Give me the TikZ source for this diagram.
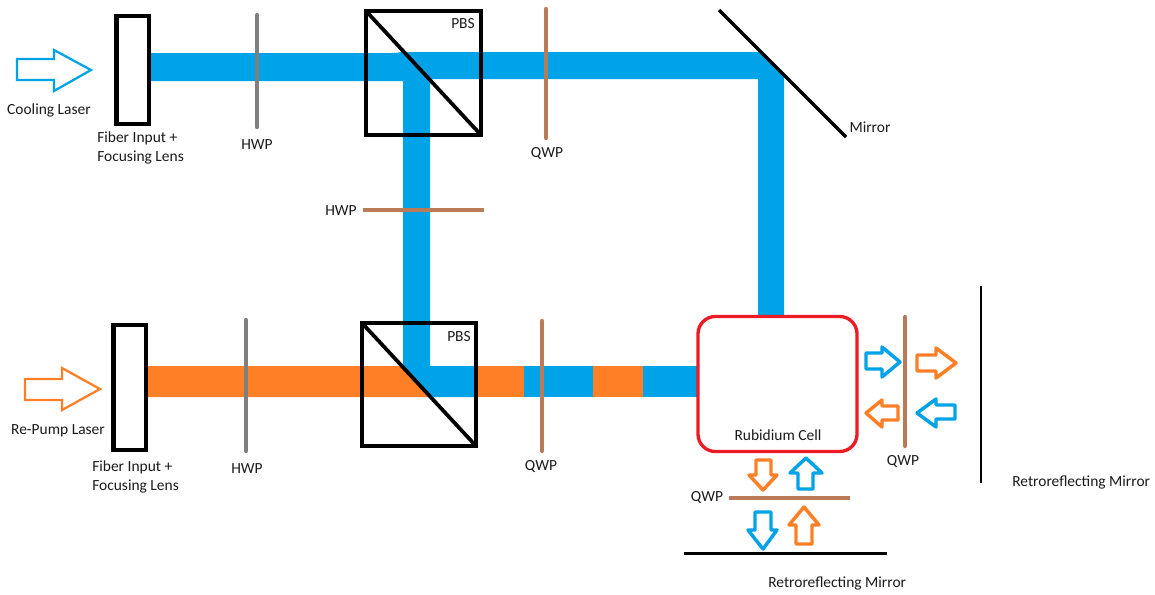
\documentclass[tikz,border=0pt]{standalone}
\usepackage{fontspec}
\setmainfont{Carlito}
\definecolor{beamblue}{HTML}{00A2E8}
\definecolor{beamorange}{HTML}{FF7F27}
\definecolor{wpbrown}{HTML}{B97A57}
\definecolor{wpgray}{HTML}{7F7F7F}
\definecolor{cellred}{HTML}{ED1C24}
\definecolor{labelink}{HTML}{1A1A1A}
\tikzset{
  plategray/.style={draw=wpgray,line width=3.2pt,line cap=round},
  platebrown/.style={draw=wpbrown,line width=3.2pt,line cap=round},
  fiberbox/.style={draw=black,line width=3.2pt,fill=white},
  cube/.style={draw=black,line width=3.5pt},
  cubediag/.style={draw=black,line width=2.8pt},
  mirrorline/.style={draw=black,line width=2pt},
  arrblue/.style={draw=beamblue,line width=2.6pt,fill=white,line join=round},
  arrorange/.style={draw=beamorange,line width=2.6pt,fill=white,line join=round},
  bigblue/.style={draw=beamblue,line width=1.7pt,fill=white,line join=miter},
  bigorange/.style={draw=beamorange,line width=1.7pt,fill=white,line join=miter},
  lbl/.style={font=\fontsize{11.6pt}{13pt}\selectfont,text=labelink,inner sep=0pt},
  lblw/.style={lbl,anchor=west},
}
\begin{document}
\begin{tikzpicture}[x=0.75pt,y=-0.75pt]
\useasboundingbox (0,0) rectangle (1155,594);
% beams
\fill[beamblue] (150,53) -- (394,53) -- (402,52) -- (761,52) -- (784,75) -- (784,316) -- (758,316) -- (758,79) -- (430,79) -- (430,366) -- (476,366) -- (476,397) -- (431,397) -- (403,367) -- (403,81) -- (150,81) -- cycle;
\fill[beamorange] (147,366) -- (402,366) -- (431,397) -- (147,397) -- cycle;
\fill[beamorange] (476,366) rectangle (524,397);
\fill[beamblue] (524,366) rectangle (593,397);
\fill[beamorange] (593,366) rectangle (643,397);
\fill[beamblue] (643,366) rectangle (698,397);
% fibre boxes
\draw[fiberbox] (116.5,16) rectangle (149,124);
\draw[fiberbox] (113.5,325) rectangle (146,450);
% wave plates
\draw[plategray] (257,15) -- (257,127);
\draw[plategray] (246,320) -- (246,451);
\draw[platebrown] (546,9) -- (546,138);
\draw[platebrown] (542,321) -- (542,451);
\draw[platebrown,line cap=butt,line width=3.6pt] (363,210) -- (484,210);
\draw[platebrown] (905,317) -- (905,446);
\draw[platebrown,line cap=butt,line width=3.6pt] (729,498) -- (850,498);
% cubes
\draw[cube] (366,11) rectangle (481,135);
\draw[cubediag] (366,11) -- (481,135);
\draw[cube] (362,323) rectangle (476,446);
\draw[cubediag] (362,323) -- (476,446);
% mirrors
\draw[mirrorline,line width=2.4pt] (719,10) -- (846,137);
\draw[mirrorline] (981,286) -- (981,483);
\draw[mirrorline] (684,553.5) -- (887,553.5);
% cell
\draw[draw=cellred,line width=2.5pt,rounded corners=13pt] (698,316.5) rectangle (857,451.5);
% big arrows
\draw[bigblue] (17,59) -- (54,59) -- (54,50) -- (91,70) -- (54,91) -- (54,80) -- (17,80) -- cycle;
\draw[bigorange] (25,379) -- (62,379) -- (62,368) -- (100,389) -- (62,410) -- (62,400) -- (25,400) -- cycle;
% small arrows, right of the cell
\draw[arrblue] (866,353) -- (882,353) -- (882,347) -- (900,362) -- (882,377) -- (882,369) -- (866,369) -- cycle;
\draw[arrorange] (917,355) -- (936,355) -- (936,348) -- (956,363) -- (936,378) -- (936,371) -- (917,371) -- cycle;
\draw[arrorange] (898,406) -- (882,406) -- (882,400) -- (866,413) -- (882,427) -- (882,420) -- (898,420) -- cycle;
\draw[arrblue] (955,405) -- (936,405) -- (936,399) -- (917,413) -- (936,427) -- (936,419) -- (955,419) -- cycle;
% small arrows, below the cell
\draw[arrorange] (756,460) -- (771,460) -- (771,475) -- (777,475) -- (763,490) -- (749,475) -- (756,475) -- cycle;
\draw[arrblue] (798,489) -- (813,489) -- (813,473) -- (822,473) -- (806,458) -- (790,473) -- (798,473) -- cycle;
\draw[arrblue] (755,512) -- (771,512) -- (771,530) -- (777,530) -- (763,549) -- (748,530) -- (755,530) -- cycle;
\draw[arrorange] (796,544) -- (812,544) -- (812,525) -- (819,525) -- (804,507) -- (789,525) -- (796,525) -- cycle;
% labels
\node[lbl] (tCool) at (49,110.5) {Cooling Laser};
\node[lblw] (tFibA) at (97,138.5) {Fiber Input +};
\node[lblw] (tLensA) at (97,157.5) {Focusing Lens};
\node[lbl] (tHwpA) at (257,144.5) {HWP};
\node[lbl] (tPbsA) at (463,23.5) {PBS};
\node[lbl] (tQwpA) at (547,153.5) {QWP};
\node[lbl] (tHwpB) at (341,210.5) {HWP};
\node[lbl] (tMirror) at (870,127.5) {Mirror};
\node[lbl] (tRepump) at (58,430.5) {Re-Pump Laser};
\node[lblw] (tFibB) at (92,467.5) {Fiber Input +};
\node[lblw] (tLensB) at (92,486.5) {Focusing Lens};
\node[lbl] (tHwpC) at (247,468.5) {HWP};
\node[lbl] (tPbsB) at (459,336.5) {PBS};
\node[lbl] (tQwpB) at (541,466.5) {QWP};
\node[lbl] (tCell) at (778,435.5) {Rubidium Cell};
\node[lbl] (tQwpC) at (903,461.5) {QWP};
\node[lbl] (tQwpD) at (707,497.5) {QWP};
\node[lblw] (tRetroA) at (1012,482.5) {Retroreflecting Mirror};
\node[lblw] (tRetroB) at (768,583.5) {Retroreflecting Mirror};
\end{tikzpicture}
\end{document}
